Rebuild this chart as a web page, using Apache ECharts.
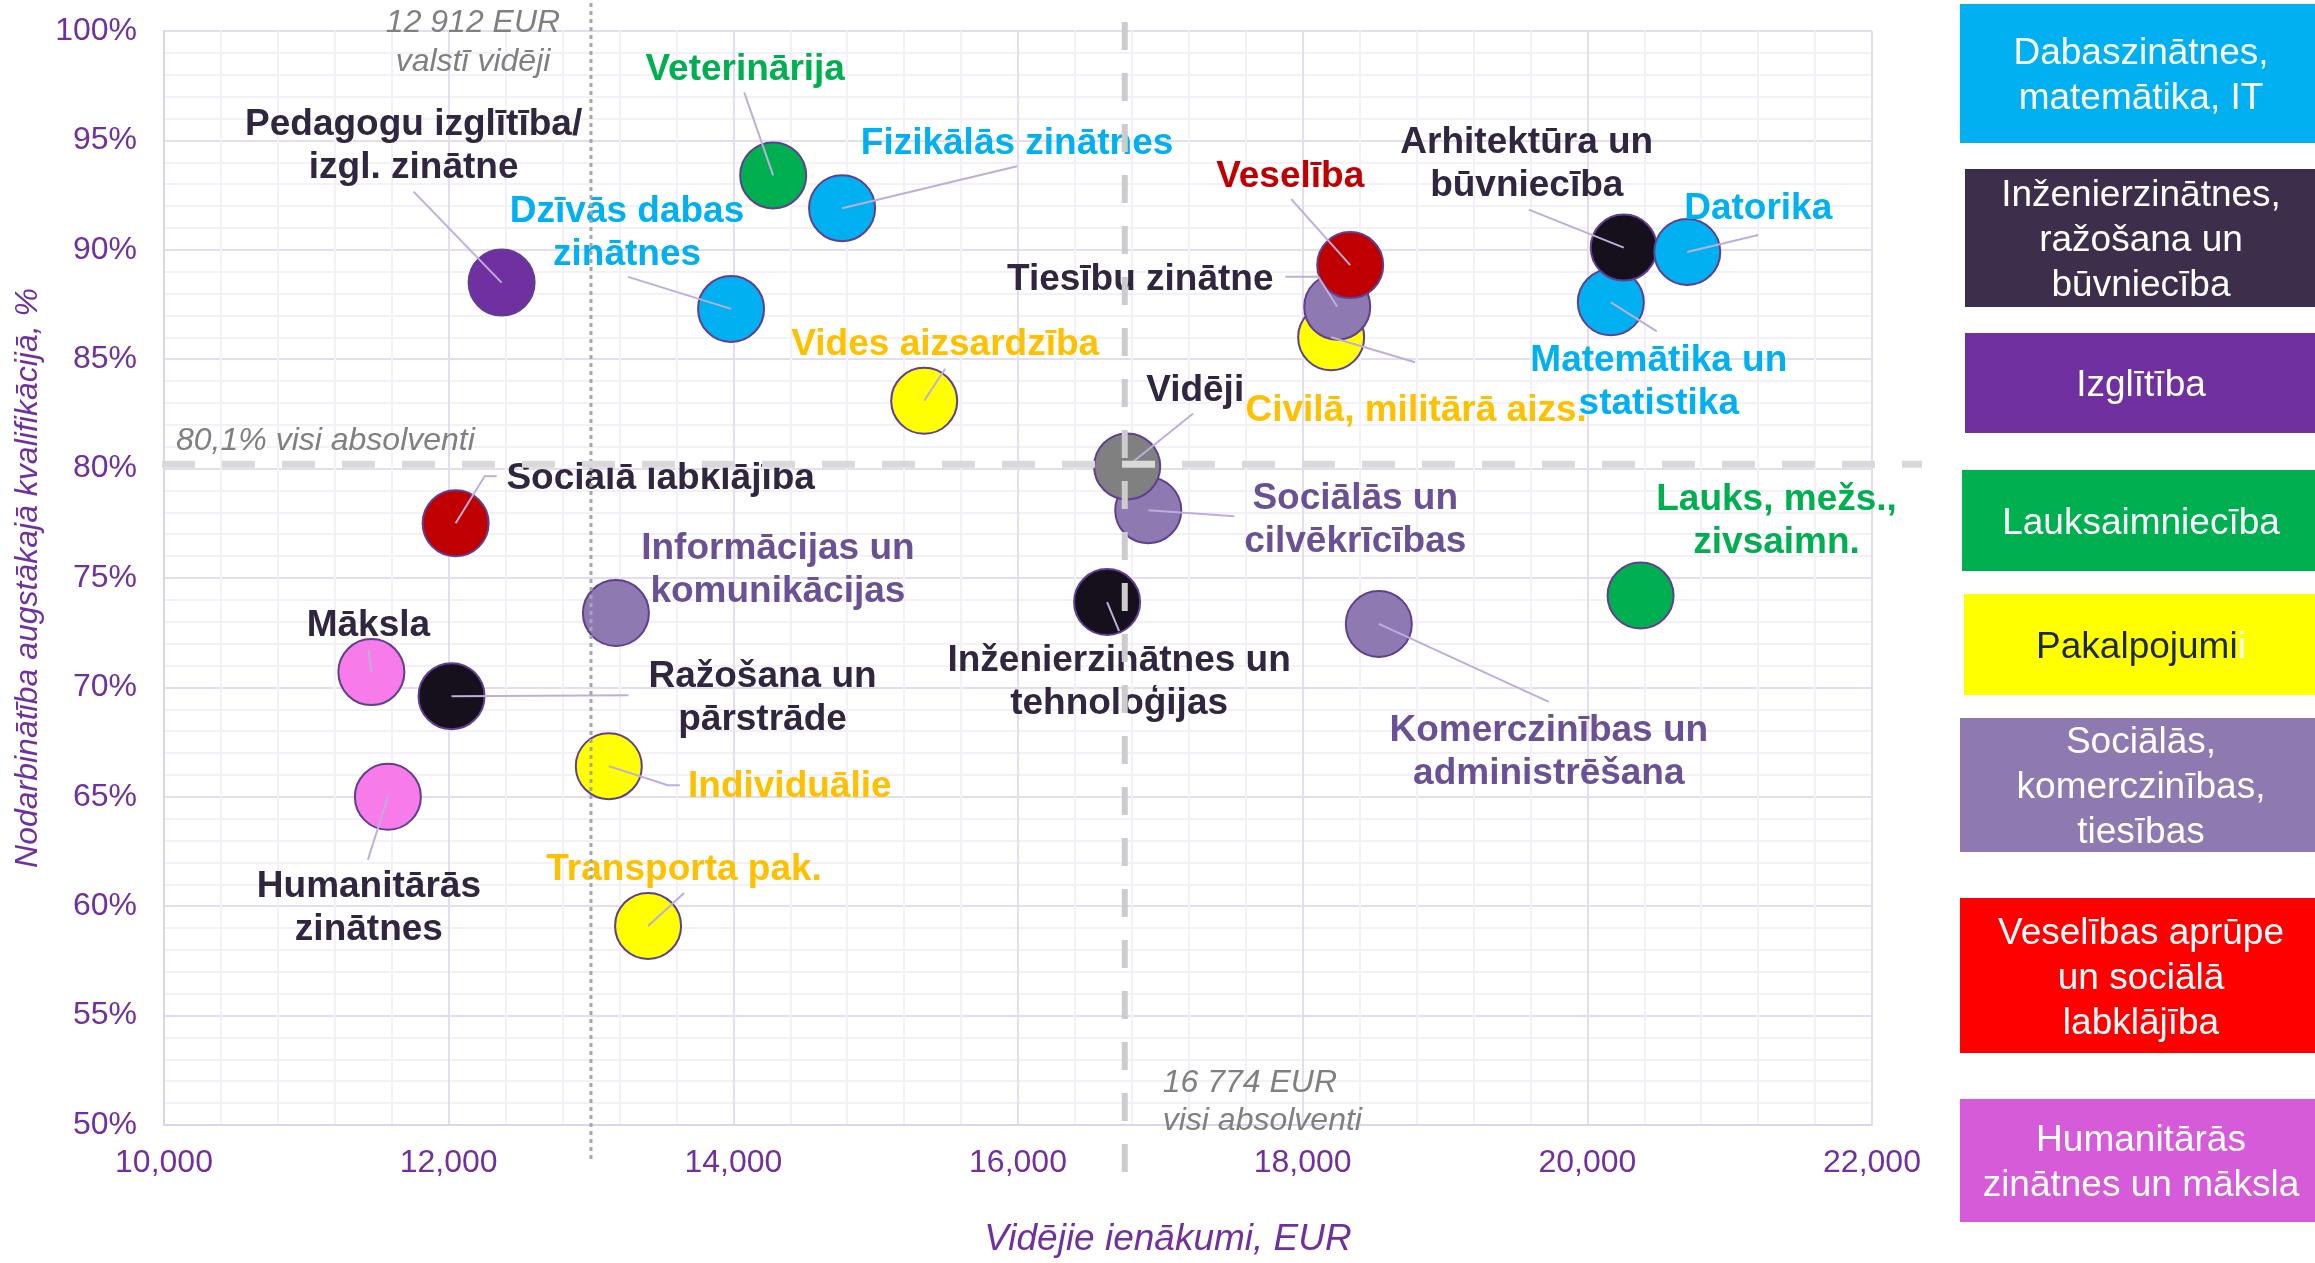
<!DOCTYPE html>
<html><head><meta charset="utf-8">
<script src="https://cdn.jsdelivr.net/npm/echarts@6/dist/echarts.min.js"></script>
<style>html,body{margin:0;padding:0;background:#fff}#c{width:2315px;height:1263px}</style>
</head><body><div id="c"></div>
<script>
// ---------------- DATA ----------------
const fields = [
  "Veterinārija", "Fizikālās zinātnes", "Dzīvās dabas zinātnes", "Pedagogu izglītība/izgl. zinātne",
  "Vides aizsardzība", "Civilā, militārā aizs.", "Tiesību zinātne", "Veselība",
  "Matemātika un statistika", "Arhitektūra un būvniecība", "Datorika", "Sociālās un cilvēkrīcības",
  "Vidēji", "Inženierzinātnes un tehnoloģijas", "Komerczinības un administrēšana", "Lauks, mežs., zivsaimn.",
  "Sociālā labklājība", "Informācijas un komunikācijas", "Māksla", "Ražošana un pārstrāde",
  "Individuālie", "Humanitārās zinātnes", "Transporta pak."
];
const labels = [
  "Veterinārija", "Fizikālās zinātnes", "Dzīvās dabas\nzinātnes", "Pedagogu izglītība/\nizgl. zinātne",
  "Vides aizsardzība", "Civilā, militārā aizs.", "Tiesību zinātne", "Veselība",
  "Matemātika un\nstatistika", "Arhitektūra un\nbūvniecība", "Datorika", "Sociālās un\ncilvēkrīcības",
  "Vidēji", "Inženierzinātnes un\ntehnoloģijas", "Komerczinības un\nadministrēšana", "Lauks, mežs.,\nzivsaimn.",
  "Sociālā labklājība", "Informācijas un\nkomunikācijas", "Māksla", "Ražošana un\npārstrāde",
  "Individuālie", "Humanitārās\nzinātnes", "Transporta pak."
];
const income = [
  14280, 14764, 13984, 12372,
  15341, 18200, 18243, 18334,
  20165, 20256, 20702, 16915,
  16767, 16626, 18535, 20374,
  12049, 13175, 11457, 12020,
  13125, 11573, 13401
];
const employment = [
  93.4, 91.9, 87.3, 88.5,
  83.1, 86.0, 87.4, 89.3,
  87.6, 90.1, 89.9, 78.1,
  80.1, 73.9, 72.9, 74.2,
  77.5, 73.4, 70.7, 69.6,
  66.4, 65.0, 59.1
];
const groupOf = [
  "agri", "nat", "nat", "edu",
  "serv", "serv", "soc", "health",
  "nat", "eng", "nat", "soc",
  "avg", "eng", "soc", "agri",
  "health", "soc", "hum", "eng",
  "serv", "hum", "serv"
];
const legendGroups = ["nat", "eng", "edu", "agri", "serv", "soc", "health", "hum"];
const legendNames = [
  "Dabaszinātnes,\nmatemātika, IT",
  "Inženierzinātnes,\nražošana un\nbūvniecība",
  "Izglītība",
  "Lauksaimniecība",
  "Pakalpojumi",
  "Sociālās,\nkomerczinības,\ntiesības",
  "Veselības aprūpe\nun sociālā\nlabklājība",
  "Humanitārās\nzinātnes un māksla"
];
const countryAvgIncome = 13000;     // line position as drawn (label: 12 912 EUR)
const graduatesAvgIncome = 16750;   // line position as drawn (label: 16 774 EUR)
const graduatesAvgEmployment = 80.2;
const xTickMin = 10000, xTickMax = 22000, xTickStep = 2000;
const yTickMin = 50, yTickMax = 100, yTickStep = 5;

// ---------------- STYLES / LAYOUT ----------------
const groupColor = {
  nat: "#00B0F0", eng: "#15101B", edu: "#7030A0", agri: "#00B050", serv: "#FFFF00",
  soc: "#8E7AB0", health: "#C00000", hum: "#F77BE8", avg: "#808080"
};
const legendColor = {
  nat: "#00B0F0", eng: "#3D2F4B", edu: "#7030A0", agri: "#00B050", serv: "#FFFF00",
  soc: "#8E7AB0", health: "#FF0000", hum: "#D65BD9"
};
const legendBox = [ [1960, 4, 139], [1965, 169, 138], [1965, 333, 100], [1962, 470, 101],
                    [1964, 594, 101], [1960, 718, 134], [1960, 898, 155], [1960, 1099, 123] ];
const DARK = "#30263F", LAV = "#6A5195", BLUE = "#00B0F0", GREEN = "#00B050", ORANGE = "#FFC000", RED = "#C00000";
// label colour, label centre offset (px from point), leader polyline offsets
const labelStyle = [
  [GREEN, [-28, -106], [[-29, -83]]],
  [BLUE, [175, -64], [[175, -42]]],
  [BLUE, [-104, -76], [[-103, -32]]],
  [DARK, [-88, -136], [[-88, -91]]],
  [ORANGE, [21, -56], [[21, -32]]],
  [ORANGE, [85, 73], [[84, 25]]],
  [DARK, [-197, -27], [[-19, -30], [-52, -30]]],
  [RED, [-60, -88], [[-59, -66]]],
  [BLUE, [48, 80], [[46, 29]]],
  [DARK, [-97, -83], [[-95, -38]]],
  [BLUE, [71, -43], [[71, -17]]],
  [LAV, [207, 10], [[86, 6]]],
  [DARK, [68, -76], [[66, -53]]],
  [DARK, [12, 80], [[12, 29]]],
  [LAV, [170, 128], [[170, 78]]],
  [GREEN, [136, -74], null],
  [DARK, [205, -45], [[29, -47], [41, -47]]],
  [LAV, [162, -43], null],
  [DARK, [-3, -46], [[-3, -23]]],
  [DARK, [311, 2], [[177, -1]]],
  [ORANGE, [181, 21], [[59, 19], [71, 19]]],
  [DARK, [-19, 111], [[-20, 63]]],
  [ORANGE, [36, -56], [[36, -33]]]
];
const FONT = "'Liberation Sans', Arial, sans-serif";
const R = 33;

const chart = echarts.init(document.getElementById('c'), null, {renderer: 'canvas'});

const pointData = income.map((v, i) => [v, employment[i], i]);

const legendGraphics = [];
legendGroups.forEach((g, i) => {
  const [x, y, h] = legendBox[i];
  legendGraphics.push({type: 'rect', left: x, top: y, shape: {width: 2315 - x, height: h}, style: {fill: legendColor[g]}, z: 1});
  const isServ = g === 'serv';
  legendGraphics.push({
    type: 'text', x: 2141, y: y + h / 2 + 3, z: 2,
    style: isServ ? {
      text: '{a|' + legendNames[i] + '}{b|i}', align: 'center', verticalAlign: 'middle',
      rich: {a: {fill: '#1E2838', font: '37px ' + FONT}, b: {fill: '#FFFFFF', font: '37px ' + FONT}}
    } : {
      text: legendNames[i], fill: '#FFFFFF', font: '37px ' + FONT, align: 'center', verticalAlign: 'middle', lineHeight: 45
    }
  });
});

const option = {
  backgroundColor: '#FFFFFF',
  animation: false,
  grid: {left: 164, right: 443, top: 31, bottom: 133, containLabel: false},
  xAxis: {
    type: 'value', min: xTickMin, max: xTickMax, interval: xTickStep,
    name: 'Vidējie ienākumi, EUR', nameLocation: 'middle', nameGap: 96,
    nameTextStyle: {color: '#7030A0', fontStyle: 'italic', fontSize: 37, fontFamily: FONT, padding: [0, 0, 0, 300]},
    axisLine: {show: true, lineStyle: {color: '#DCD3EE', width: 2}},
    axisTick: {show: false},
    axisLabel: {color: '#7030A0', fontSize: 32, fontFamily: FONT, margin: 22,
      formatter: v => v.toLocaleString('en-US')},
    splitLine: {show: true, lineStyle: {color: '#E4DDF0', width: 2}},
    minorTick: {show: false, splitNumber: 5},
    minorSplitLine: {show: true, lineStyle: {color: '#F3F0F8', width: 2}}
  },
  yAxis: {
    type: 'value', min: yTickMin, max: yTickMax, interval: yTickStep,
    name: 'Nodarbinātība augstākajā kvalifikācijā, %', nameLocation: 'middle', nameGap: 116,
    nameTextStyle: {color: '#7030A0', fontStyle: 'italic', fontSize: 32, fontFamily: FONT},
    axisLine: {show: true, lineStyle: {color: '#DCD3EE', width: 2}},
    axisTick: {show: false},
    axisLabel: {color: '#7030A0', fontSize: 32, fontFamily: FONT, margin: 27, formatter: v => v + '%'},
    splitLine: {show: true, lineStyle: {color: '#E4DDF0', width: 2}},
    minorTick: {show: false, splitNumber: 5},
    minorSplitLine: {show: true, lineStyle: {color: '#F3F0F8', width: 2}}
  },
  graphic: legendGraphics,
  series: [
    {
      type: 'custom', name: 'points', z: 3, clip: false,
      data: pointData,
      renderItem: (params, api) => {
        const i = api.value(2);
        const p = api.coord([api.value(0), api.value(1)]);
        const st = labelStyle[i];
        const ch = [{
          type: 'circle', shape: {cx: p[0], cy: p[1], r: R}, z2: i,
          style: {fill: groupColor[groupOf[i]], stroke: '#5E3F92', lineWidth: 2}
        }];
        if (st[2]) {
          const pts = [[p[0], p[1]]].concat(st[2].map(o => [p[0] + o[0], p[1] + o[1]]));
          ch.push({type: 'polyline', shape: {points: pts}, z2: 100,
            style: {stroke: '#BDAEDC', lineWidth: 2, fill: null}});
        }
        ch.push({type: 'text', x: p[0] + st[1][0], y: p[1] + st[1][1], z2: 200,
          style: {text: labels[i], fill: st[0], font: 'bold 37px ' + FONT, align: 'center',
            verticalAlign: 'middle', lineHeight: 43}});
        return {type: 'group', children: ch};
      }
    },
    {
      type: 'custom', name: 'refs', z: 10, clip: false,
      data: [[countryAvgIncome, graduatesAvgIncome, graduatesAvgEmployment]],
      renderItem: (params, api) => {
        const xc = api.coord([api.value(0), yTickMin])[0];
        const xg = api.coord([api.value(1), yTickMin])[0];
        const yg = api.coord([xTickMin, api.value(2)])[1];
        const x0 = api.coord([xTickMin, yTickMin])[0];
        const ital = 'italic 32px ' + FONT;
        return {type: 'group', children: [
          {type: 'line', shape: {x1: xc, y1: 3, x2: xc, y2: 1160},
            style: {stroke: '#A6A6A6', lineWidth: 3, lineDash: [4, 4]}},
          {type: 'line', shape: {x1: xg, y1: 22, x2: xg, y2: 1185},
            style: {stroke: '#CCCCCC', lineWidth: 6, lineDash: [28, 23]}},
          {type: 'line', shape: {x1: x0 - 2, y1: yg, x2: 1922, y2: yg},
            style: {stroke: '#D9D9D9', lineWidth: 7, lineDash: [33, 27]}},
          {type: 'text', x: xc - 118, y: 43, style: {text: '12 912 EUR\nvalstī vidēji', fill: '#808080',
            font: ital, align: 'center', verticalAlign: 'middle', lineHeight: 39}},
          {type: 'text', x: x0 + 12, y: yg - 23, style: {text: '80,1% visi absolventi', fill: '#808080',
            font: ital, align: 'left', verticalAlign: 'middle'}},
          {type: 'text', x: xg + 38, y: 1102, style: {text: '16 774 EUR\nvisi absolventi', fill: '#808080',
            font: ital, align: 'left', verticalAlign: 'middle', lineHeight: 38}}
        ]};
      }
    }
  ]
};
chart.setOption(option);
</script>
</body></html>
